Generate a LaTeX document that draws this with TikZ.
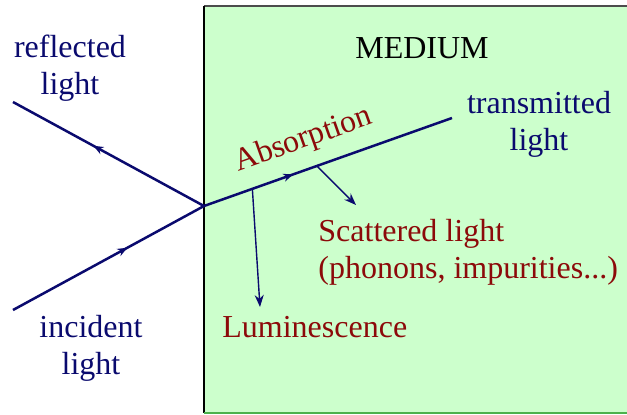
\documentclass[tikz,border=0pt]{standalone}
\usepackage{fontspec}
\setmainfont{Liberation Serif}
\usetikzlibrary{arrows.meta,calc,decorations.markings}
\definecolor{ray}{RGB}{10,10,110}
\definecolor{effect}{RGB}{140,10,10}
\definecolor{medium}{RGB}{204,255,204}

\begin{document}
\begin{tikzpicture}[
    x=0.5pt, y=-0.5pt,
    font=\fontsize{16}{18.5}\selectfont,
    beam/.style={color=ray, line width=1.25pt},
    midarrow/.style={postaction={decorate, decoration={markings,
        mark=at position #1 with {\arrow{Stealth[length=5pt,width=4pt]}}}}},
    branch/.style={color=ray, line width=0.7pt, -{Stealth[length=6pt,width=4.5pt]}},
    raytext/.style={text=ray, align=center, inner sep=0pt},
    efftext/.style={text=effect, inner sep=0pt}
]
    \useasboundingbox (0,0) rectangle (627,414);

    % --- Medium ---
    \fill[medium] (204,6) rectangle (627,413);
    \draw[black!70, line width=0.6pt] (627,6) -- (204,6);
    \draw[black, line width=0.8pt] (204,6) -- (204,413);
    \draw[green!40!gray, line width=0.8pt] (204,413) -- (627,413);
    \node[anchor=base, inner sep=0pt] (med) at (422,58) {MEDIUM};

    % --- Rays ---
    \coordinate (hit) at (204,206);
    \coordinate (refl) at (13,102);
    \coordinate (inc) at (13,310);
    \coordinate (trans) at (452,118);

    \draw[beam, midarrow=0.6] (inc) -- (hit);
    \draw[beam, midarrow=0.58] (hit) -- (refl);
    \draw[beam, midarrow=0.36] (hit) -- node[sloped, above=6.5pt, pos=0.44, efftext] (abs) {Absorption} (trans);

    % --- Labels (base = last line) ---
    \node[raytext, anchor=base] (refltext) at (70,94) {reflected\\light};
    \node[raytext, anchor=base] (inctext) at (91,374) {incident\\light};
    \node[raytext, anchor=base] (transtext) at (539,150) {transmitted\\light};

    \node[efftext, anchor=base west, align=left] (scat) at (318,278)
        {Scattered light\\(phonons, impurities...)};
    \node[efftext, anchor=base west] (lum) at (222,337) {Luminescence};

    % --- Secondary processes ---
    \coordinate (lumstart) at ($(hit)!0.195!(trans)$);
    \coordinate (lumend) at (260,307);
    \coordinate (scatstart) at ($(hit)!0.455!(trans)$);
    \coordinate (scatend) at (356,205);

    \draw[branch] (lumstart) -- (lumend);
    \draw[branch] (scatstart) -- (scatend);

\end{tikzpicture}
\end{document}
